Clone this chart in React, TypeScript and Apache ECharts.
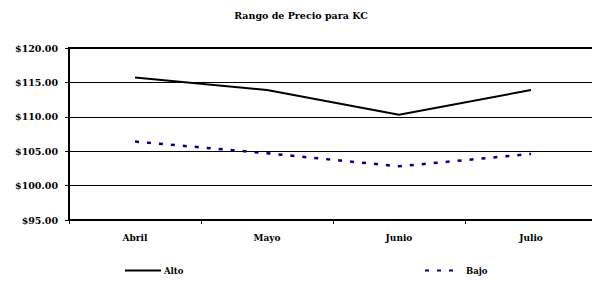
import React, { useEffect, useRef } from "react";
import * as echarts from "echarts";

const categories = ["Abril", "Mayo", "Junio", "Julio"];
const alto = [115.7, 113.9, 110.3, 113.9];
const bajo = [106.4, 104.7, 102.8, 104.6];
const seriesNames = ["Alto", "Bajo"];
const titleText = "Rango de Precio para KC";

const FONT = "DejaVu Serif";

export default function App() {
  const ref = useRef<HTMLDivElement>(null);
  useEffect(() => {
    if (!ref.current) return;
    const chart = echarts.init(ref.current, undefined, { renderer: "svg" });
    const legendBase = {
      itemWidth: 36,
      itemHeight: 2,
      itemGap: 0,
      itemStyle: { color: "rgba(0,0,0,0)", borderWidth: 0 },
    };
    chart.setOption({
      animation: false,
      backgroundColor: "#ffffff",
      title: {
        text: titleText,
        left: 296,
        textAlign: "center",
        top: 5,
        textStyle: { fontFamily: FONT, fontWeight: "bold", fontSize: 9.5, color: "#000" },
      },
      grid: {
        left: 69,
        top: 48,
        bottom: 61,
        right: 3,
        show: true,
        borderColor: "#000",
        borderWidth: 2,
        containLabel: false,
      },
      legend: [
        {
          ...legendBase,
          data: [seriesNames[0]],
          left: 119,
          top: 261,
          textStyle: { fontFamily: FONT, fontWeight: "bold", fontSize: 8.5, color: "#000", padding: [0, 0, 0, -2] },
        },
        {
          ...legendBase,
          data: [seriesNames[1]],
          left: 419,
          top: 261,
          textStyle: { fontFamily: FONT, fontWeight: "bold", fontSize: 8.5, color: "#000", padding: [0, 0, 0, 0] },
        },
      ],
      xAxis: {
        type: "category",
        data: categories,
        boundaryGap: true,
        axisLine: { show: true, lineStyle: { color: "#000", width: 2 } },
        axisTick: { show: true, length: 4, lineStyle: { color: "#000", width: 1 } },
        axisLabel: { margin: 13, fontFamily: FONT, fontWeight: "bold", fontSize: 9, color: "#000" },
        splitLine: { show: false },
      },
      yAxis: {
        type: "value",
        min: 95,
        max: 120,
        interval: 5,
        axisLine: { show: true, lineStyle: { color: "#000", width: 2 } },
        axisTick: { show: true, length: 4, lineStyle: { color: "#000", width: 1 } },
        axisLabel: {
          margin: 11,
          fontFamily: FONT,
          fontWeight: "bold",
          fontSize: 9.5,
          color: "#000",
          formatter: (v: number) => "$" + v.toFixed(2),
        },
        splitLine: { show: true, lineStyle: { color: "#000", width: 1 } },
      },
      series: [
        {
          name: seriesNames[0],
          type: "line",
          data: alto,
          symbol: "none",
          lineStyle: { color: "#000", width: 2, type: "solid" },
          itemStyle: { color: "#000" },
        },
        {
          name: seriesNames[1],
          type: "line",
          data: bajo,
          symbol: "none",
          lineStyle: { color: "#000080", width: 2.5, type: [4, 8] },
          itemStyle: { color: "#000080" },
        },
      ],
    });
    return () => chart.dispose();
  }, []);
  return (
    <div
      style={{ position: "absolute", left: 0, top: 0, width: 592, height: 281, overflow: "hidden", background: "#fff" }}
    >
      <div ref={ref} style={{ width: 600, height: 281 }} />
    </div>
  );
}
